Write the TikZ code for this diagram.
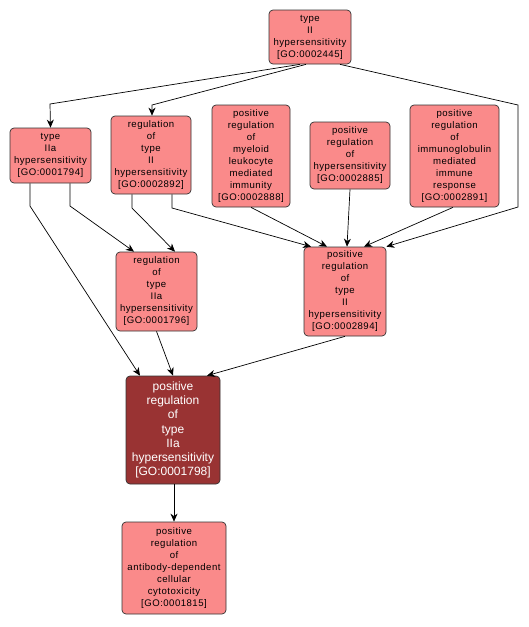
\documentclass[tikz,border=0pt]{standalone}
\usepackage{fontspec}
\setmainfont{Liberation Sans}
\newfontfamily\gofont[LetterSpace=5]{Liberation Sans}
\usetikzlibrary{arrows.meta}
\definecolor{gopink}{RGB}{250,138,138}
\definecolor{godark}{RGB}{153,51,51}
\tikzset{
  term/.style={draw=black!80, fill=gopink, rounded corners=4pt, align=center,
    inner sep=0pt, font=\gofont\fontsize{9.6}{12}\selectfont, line width=0.7pt},
  focus/.style={term, fill=godark, text=white, font=\fontsize{12}{14.2}\selectfont},
  edge/.style={-{Stealth[length=8pt,width=7pt,inset=2.5pt]}, line width=0.7pt}
}

\begin{document}
\begin{tikzpicture}[x=1pt,y=-1pt]
\useasboundingbox (0,0) rectangle (529,627);
% top row
\node[term, minimum width=82, minimum height=54] (go2445) at (310,37) {type\\II\\hypersensitivity\\{[}GO:0002445{]}};
% second row
\node[term, minimum width=81, minimum height=55] (go1794) at (50.5,155.5) {type\\IIa\\hypersensitivity\\{[}GO:0001794{]}};
\node[term, minimum width=80, minimum height=78] (go2892) at (151,155) {regulation\\of\\type\\II\\hypersensitivity\\{[}GO:0002892{]}};
\node[term, minimum width=78, minimum height=102] (go2888) at (251,156) {positive\\regulation\\of\\myeloid\\leukocyte\\mediated\\immunity\\{[}GO:0002888{]}};
\node[term, minimum width=80, minimum height=67] (go2885) at (350,155.5) {positive\\regulation\\of\\hypersensitivity\\{[}GO:0002885{]}};
\node[term, minimum width=89, minimum height=102] (go2891) at (454.5,156) {positive\\regulation\\of\\immunoglobulin\\mediated\\immune\\response\\{[}GO:0002891{]}};
% third row
\node[term, minimum width=81, minimum height=79] (go1796) at (156.5,291.5) {regulation\\of\\type\\IIa\\hypersensitivity\\{[}GO:0001796{]}};
\node[term, minimum width=82, minimum height=89] (go2894) at (345,291.5) {positive\\regulation\\of\\type\\II\\hypersensitivity\\{[}GO:0002894{]}};
% the term itself
\node[focus, minimum width=94, minimum height=108] (go1798) at (173,430) {positive\\regulation\\of\\type\\IIa\\hypersensitivity\\{[}GO:0001798{]}};
\node[term, minimum width=104, minimum height=92] (go1815) at (174,568) {positive\\regulation\\of\\antibody-dependent\\cellular\\cytotoxicity\\{[}GO:0001815{]}};
% edges
\draw[edge] (go2445.south -| 300,0) -- (50,104) -- (go1794.north);
\draw[edge] (go2445.south -| 306,0) -- (152,105) -- (go2892.north -| 152,0);
\draw[edge] (go2445.south -| 340,0) -- (518,105) -- (518,207) -- (go2894.north east);
\draw[edge] (go1794.south -| 70,0) -- (70,206) -- (go1796.north -| 134,0);
\draw[edge] (go1794.south -| 30,0) -- (30,206) -- (go1798.north -| 140,0);
\draw[edge] (go2892.south -| 132,0) -- (132,208) -- (go1796.north -| 175,0);
\draw[edge] (go2892.south -| 172,0) -- (172,208) -- (go2894.north -| 311,0);
\draw[edge] (go2888.south) -- (go2894.north -| 327,0);
\draw[edge] (go2885.south) -- (go2894.north -| 347,0);
\draw[edge] (go2891.south -| 453,0) -- (go2894.north -| 364,0);
\draw[edge] (go1796.south) -- (go1798.north);
\draw[edge] (go2894.south) -- (go1798.north -| 207,0);
\draw[edge] (go1798.south -| 174,0) -- (go1815.north);
\end{tikzpicture}
\end{document}
